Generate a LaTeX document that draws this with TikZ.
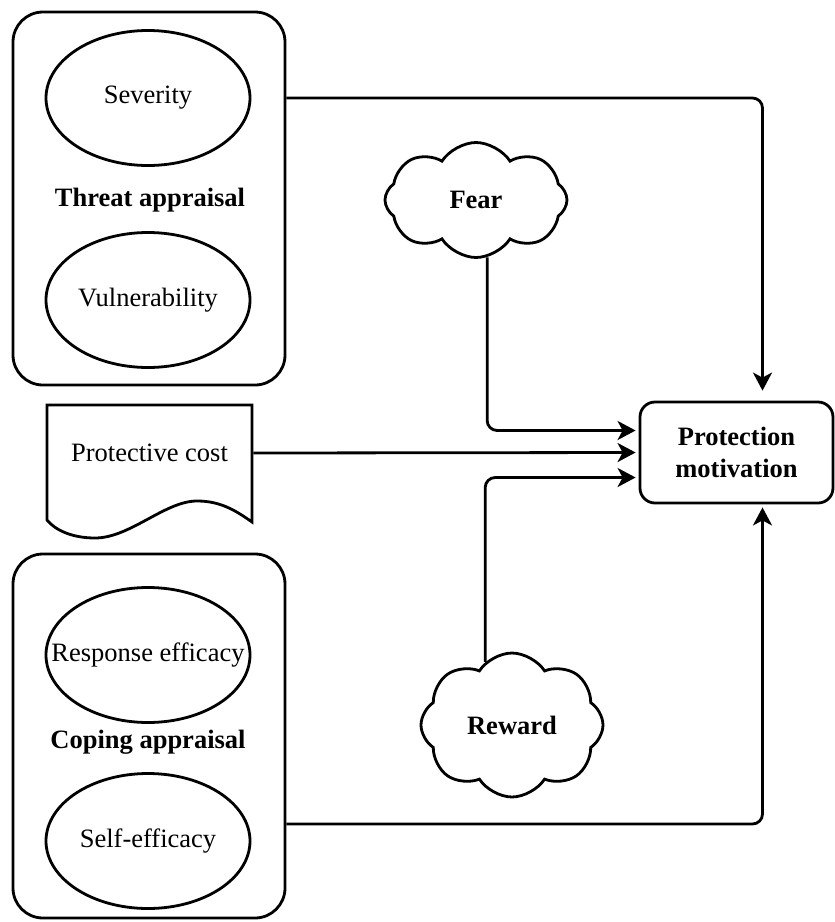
\documentclass[tikz,border=0pt]{standalone}
\usepackage{fontspec}
\setmainfont{Liberation Serif}
\usetikzlibrary{shapes.geometric, shapes.symbols, arrows.meta}

\begin{document}
\begin{tikzpicture}[x=1pt, y=-1pt, line width=2.8pt,
    every node/.style={font=\fontsize{26.5}{32}\selectfont, inner sep=0pt},
    group/.style={draw, rectangle, rounded corners=30pt, minimum width=272pt},
    oval/.style={draw, ellipse, minimum width=204pt, minimum height=135pt},
    puff/.style={draw, cloud, cloud puffs=8, cloud puff arc=115, minimum width=182pt,
      minimum height=115pt, font=\fontsize{26.5}{32}\selectfont\bfseries},
    arr/.style={-{Stealth[length=18pt, width=19pt, inset=5pt]}, rounded corners=10pt,
      shorten >=3pt}]
  \useasboundingbox (0,0) rectangle (835,922);

  % Threat appraisal group
  \node[group, minimum height=373pt] (threat) at (149,198.5) {};
  \node[oval] (sev) at (148,98) {Severity};
  \node[font=\fontsize{26.5}{32}\selectfont\bfseries] (tlabel) at (150,200) {Threat appraisal};
  \node[oval] (vul) at (148,300) {Vulnerability};

  % Protective cost (document shape)
  \draw (47,405) -- (252,405) -- (252,522)
    .. controls (235,510) and (220,501) .. (197,501)
    .. controls (165,501) and (130,538) .. (95,538)
    .. controls (72,538) and (55,530) .. (47,520) -- cycle;
  \node[minimum width=205pt] (cost) at (149.5,453) {Protective cost};

  % Coping appraisal group
  \node[group, minimum height=364pt] (cope) at (149,736) {};
  \node[oval] (resp) at (148,655) {};
  \node (resptext) at (resp) {Response efficacy};
  \node[font=\fontsize{26.5}{32}\selectfont\bfseries] (clabel) at (148,742) {Coping appraisal};
  \node[oval] (selfeff) at (148,841) {Self-efficacy};

  % Clouds
  \node[puff] (fear) at (476,200) {Fear};
  \node[puff] (reward) at (512,725) {Reward};

  % Protection motivation
  \node[draw, rounded corners=15pt, minimum width=193pt, minimum height=101pt,
    align=center, font=\fontsize{26.5}{32}\selectfont\bfseries] (pm) at (736.5,452.5)
    {Protection\\motivation};

  % Connectors
  \draw[arr, shorten >=10pt] (sev.east -| threat.east) -| ([xshift=26pt]pm.north);
  \draw[arr] (fear.281) |- ([yshift=22pt]pm.west);
  \draw[arr] (cost.east) -- (pm.west);
  \draw[arr] (reward.113) |- ([yshift=-25pt]pm.west);
  \draw[arr] ([yshift=17pt]selfeff.east -| cope.east) -| ([xshift=26pt]pm.south);
\end{tikzpicture}
\end{document}
